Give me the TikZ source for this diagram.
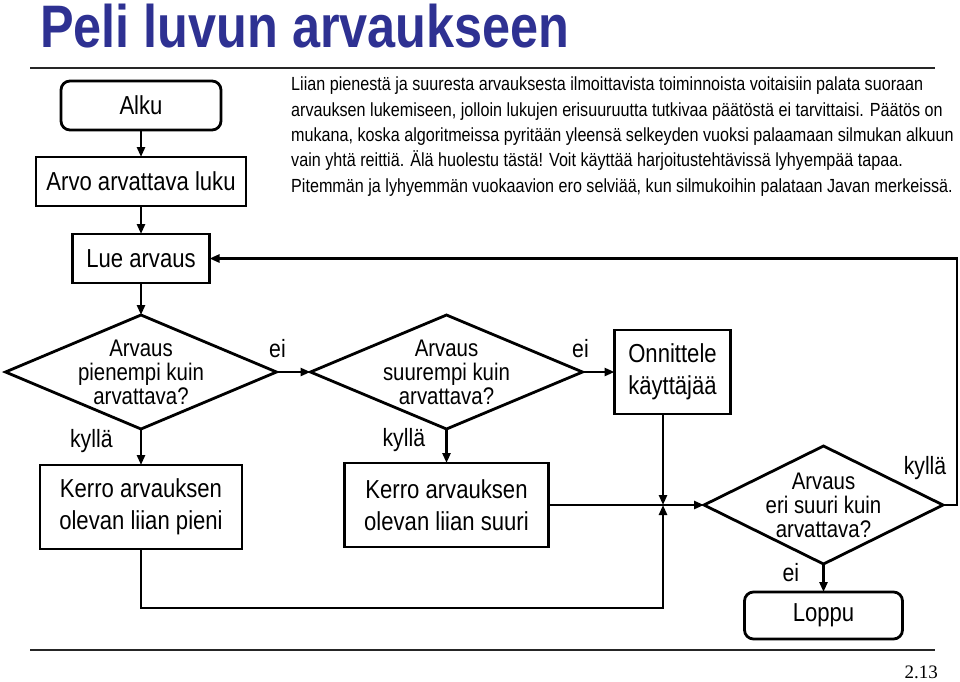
\documentclass[tikz,border=0pt]{standalone}
\usepackage{fontspec}
\setmainfont{Liberation Sans}[FakeStretch=0.85]
\newfontfamily\pagenofont{Liberation Serif}
\newfontfamily\titlefont{Liberation Sans}[FakeStretch=0.84]
\usepackage{tikz}
\usetikzlibrary{shapes.geometric,arrows.meta}
\usetikzlibrary{positioning}
\definecolor{titleblue}{RGB}{46,49,146}

\begin{document}
\begin{tikzpicture}[x=1pt,y=-1pt,
>={Triangle[length=10pt,width=8pt]},
startnode/.style={rectangle, rounded corners=9pt, draw, line width=2.8pt, outer sep=0pt, minimum height=49pt, font=\fontsize{26}{32}\selectfont},
boxnode/.style={rectangle, draw, line width=2.8pt, outer sep=0pt, minimum height=49pt, align=center, font=\fontsize{26}{32}\selectfont},
choicenode/.style={diamond, draw, line width=2.8pt, outer sep=0pt, inner sep=-3.4pt, align=center, font=\fontsize{24}{24}\selectfont},
labelnode/.style={inner sep=0pt, font=\fontsize{25}{28}\selectfont},
flow/.style={line width=2.8pt,->}
]
\useasboundingbox (0,0) rectangle (960,681);
%Title
\node[anchor=base west, inner sep=0pt, text=titleblue, font=\titlefont\fontsize{60}{62}\selectfont\bfseries] (title) at (40,47) {Peli luvun arvaukseen};
\draw[line width=1.4pt, black!85] (30,68) -- (935,68);
\draw[line width=1.4pt, black!85] (30,650) -- (935,650);
\node[anchor=base east, inner sep=0pt, font=\pagenofont\fontsize{19}{22}\selectfont] (pageno) at (938,678) {2.13};
\node[anchor=north west, inner sep=0pt, align=left, font=\fontsize{19}{25.3}\selectfont] (note) at (291,77)
{Liian pienestä ja suuresta arvauksesta ilmoittavista toiminnoista voitaisiin palata suoraan\\
arvauksen lukemiseen, jolloin lukujen erisuuruutta tutkivaa päätöstä ei tarvittaisi. Päätös on\\
mukana, koska algoritmeissa pyritään yleensä selkeyden vuoksi palaamaan silmukan alkuun\\
vain yhtä reittiä. Älä huolestu tästä! Voit käyttää harjoitustehtävissä lyhyempää tapaa.\\
Pitemmän ja lyhyemmän vuokaavion ero selviää, kun silmukoihin palataan Javan merkeissä.};
%Nodes
\node[startnode, minimum width=160pt]  (alku)  at (141,105.5) {Alku};
\node[boxnode, minimum width=210pt]    (arvo)     [below=27pt of alku] {Arvo arvattava luku};
\node[boxnode, minimum width=137pt]    (lue)      [below=28pt of arvo] {Lue arvaus};
\node[choicenode, aspect=2.37, minimum width=271pt, minimum height=114pt] (pienempi) [below=32pt of lue] {Arvaus\\pienempi kuin\\arvattava?};
\node[choicenode, aspect=2.37, minimum width=272pt, minimum height=114pt] (suurempi) [right=34pt of pienempi] {Arvaus\\suurempi kuin\\arvattava?};
\node[boxnode, minimum width=116pt, minimum height=84pt] (onnittele) [right=32pt of suurempi] {Onnittele\\käyttäjää};
\node[boxnode, minimum width=202pt, minimum height=84pt] (pieni)  [below=36pt of pienempi] {Kerro arvauksen\\olevan liian pieni};
\node[boxnode, minimum width=204pt, minimum height=84pt] (suuri)  [below=34pt of suurempi] {Kerro arvauksen\\olevan liian suuri};
\node[choicenode, aspect=2.03, minimum width=239pt, minimum height=118pt] (erisuuri) at (823.5,505) {Arvaus\\eri suuri kuin\\arvattava?};
\node[startnode, minimum width=158pt, minimum height=47pt] (loppu) [below=28pt of erisuuri] {Loppu};
\coordinate (join) at (663,505);
\coordinate (loopbottom) at (663,608);
\coordinate (loopright) at (957,505);
%Lines
\draw[flow] (alku) -- (arvo);
\draw[flow] (arvo) -- (lue);
\draw[flow] (lue) -- (pienempi);
\draw[flow] (pienempi.east) -- node[labelnode, pos=0, above=13pt, xshift=1pt] {ei} (suurempi.west);
\draw[flow] (suurempi.east) -- node[labelnode, pos=0, above=13pt, xshift=-2pt] {ei} (onnittele.west);
\draw[flow] (pienempi.south) -- node[labelnode, pos=0.33, left=27pt] {kyllä} (pieni.north);
\draw[flow] (suurempi.south) -- node[labelnode, pos=0.33, left=20pt] {kyllä} (suuri.north);
\draw[flow] (onnittele.south -| join) -- (join);
\draw[flow] (pieni.south) |- (loopbottom) -- (join);
\draw[flow] (suuri.east |- erisuuri.west) -- (erisuuri.west);
\draw[flow] (erisuuri.south) -- node[labelnode, pos=0.3, left=23pt] {ei} (loppu.north);
\draw[flow] (erisuuri.east) -- (loopright) |- (lue.east);
\node[labelnode] (kylla) at (925,468) {kyllä};
\end{tikzpicture}
\end{document}
